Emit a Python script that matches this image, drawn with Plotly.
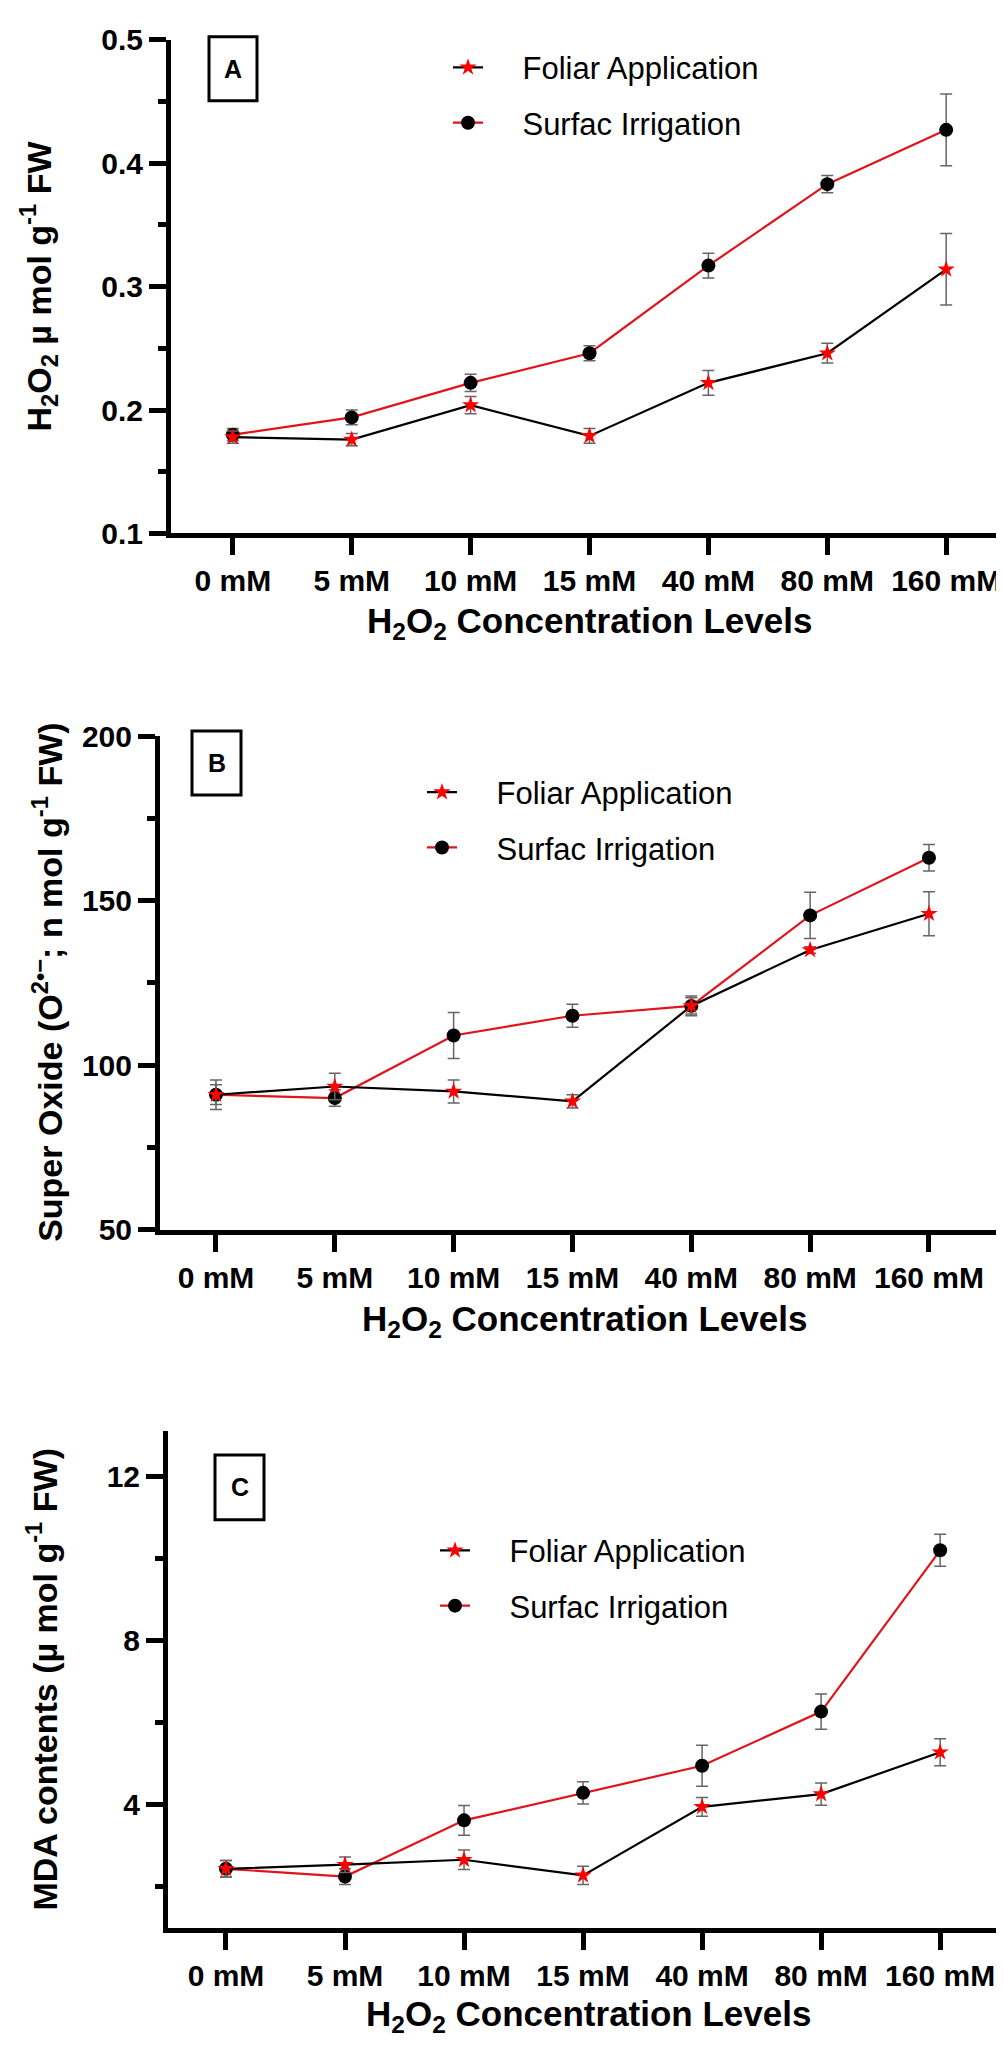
import plotly.graph_objects as go

# categories on the x axis (same in all three panels)
levels = ["0 mM", "5 mM", "10 mM", "15 mM", "40 mM", "80 mM", "160 mM"]

# Panel A - H2O2 content
a_foliar = [0.178, 0.176, 0.204, 0.179, 0.222, 0.246, 0.314]
a_foliar_err = [0.005, 0.005, 0.007, 0.006, 0.010, 0.008, 0.029]
a_surface = [0.180, 0.194, 0.222, 0.246, 0.317, 0.383, 0.427]
a_surface_err = [0.005, 0.006, 0.007, 0.006, 0.010, 0.007, 0.029]

# Panel B - super oxide
b_foliar = [91.0, 93.5, 92.0, 89.0, 118.0, 135.0, 146.0]
b_foliar_err = [4.5, 4.0, 3.5, 2.0, 2.5, 1.0, 6.7]
b_surface = [91.0, 90.0, 109.0, 115.0, 118.0, 145.5, 163.0]
b_surface_err = [3.0, 2.5, 7.0, 3.5, 3.0, 7.0, 4.0]

# Panel C - MDA contents
c_foliar = [2.44, 2.54, 2.66, 2.28, 3.95, 4.26, 5.28]
c_foliar_err = [0.20, 0.19, 0.24, 0.22, 0.23, 0.27, 0.33]
c_surface = [2.44, 2.25, 3.62, 4.29, 4.95, 6.27, 10.2]
c_surface_err = [0.20, 0.19, 0.36, 0.27, 0.50, 0.43, 0.39]

W, H = 1004, 2050
FONT = "Liberation Sans, Arial, sans-serif"
RED = "#e0141c"
ERR = "#666666"
GAP = "\u00a0" * 4  # pushes legend text away from the line sample


def px_x(p):
    return p / W


def px_y(p):
    return 1 - p / H


panels = [
    dict(f=a_foliar, fe=a_foliar_err, s=a_surface, se=a_surface_err,
         xs=(163, 1000), ys=(15, 517), xr=[-0.52, 6.52], yr=[0.1, 0.5],
         dtick=0.1, minor=0.05, tick0=0.1,
         ytitle="H<sub>2</sub>O<sub>2</sub> µ mol g<sup>-1</sup> FW", ytx=30,
         box="A", box_px=(201, 12, 249, 77), leg=(440, 16), xt=608),
    dict(f=b_foliar, fe=b_foliar_err, s=b_surface, se=b_surface_err,
         xs=(152, 1000), ys=(723, 1225), xr=[-0.471, 6.665], yr=[50, 200],
         dtick=50, minor=25, tick0=50,
         ytitle="Super Oxide (O<sup>2•−</sup>; n mol g<sup>-1</sup> FW)", ytx=40,
         box="B", box_px=(184, 718, 233, 783), leg=(414, 753), xt=1318),
    dict(f=c_foliar, fe=c_foliar_err, s=c_surface, se=c_surface_err,
         xs=(160, 1000), ys=(1430, 1935), xr=[-0.487, 6.57], yr=[1, 13.1],
         dtick=4, minor=2, tick0=0,
         ytitle="MDA contents (µ mol g<sup>-1</sup> FW)", ytx=34,
         box="C", box_px=(207, 1454, 256, 1520), leg=(427, 1524), xt=2025),
]

fig = go.Figure()
annotations = []
shapes = []

for i, p in enumerate(panels):
    n = "" if i == 0 else str(i + 1)
    xa, ya = "x" + n, "y" + n
    leg = "legend" + n

    # surface irrigation first so the foliar stars sit on top
    fig.add_trace(go.Scatter(
        x=levels, y=p["s"], name=GAP + "Surfac Irrigation", mode="lines+markers",
        line=dict(color=RED, width=2.2),
        marker=dict(symbol="circle", size=14, color="black"),
        error_y=dict(type="data", array=p["se"], color=ERR, thickness=1.5, width=6),
        xaxis=xa, yaxis=ya, legend=leg, legendgroup="s" + n, legendrank=2,
    ))
    fig.add_trace(go.Scatter(
        x=levels, y=p["f"], name=GAP + "Foliar Application", mode="lines+markers",
        line=dict(color="black", width=2.2),
        marker=dict(symbol="star", size=13, color="#ff0000", line=dict(width=0)),
        error_y=dict(type="data", array=p["fe"], color=ERR, thickness=1.5, width=6),
        xaxis=xa, yaxis=ya, legend=leg, legendgroup="f" + n, legendrank=1,
    ))

    axis_common = dict(
        showgrid=False, zeroline=False, showline=True, linecolor="black", linewidth=5,
        ticks="outside", ticklen=17, tickwidth=5, tickcolor="black",
        tickfont=dict(family=FONT, size=30, color="black", weight="bold"),
    )
    fig.update_layout(**{
        "xaxis" + n: dict(
            axis_common, domain=[px_x(p["xs"][0]), px_x(p["xs"][1])],
            anchor=ya, type="category", range=p["xr"],
        ),
        "yaxis" + n: dict(
            axis_common, domain=[px_y(p["ys"][1]), px_y(p["ys"][0])],
            anchor=xa, range=p["yr"], tick0=p["tick0"], dtick=p["dtick"],
            minor=dict(ticks="outside", ticklen=8, tickwidth=5, tickcolor="black",
                       dtick=p["minor"], tick0=p["tick0"]),
        ),
        leg: dict(
            x=px_x(p["leg"][0]), y=px_y(p["leg"][1]), xanchor="left", yanchor="top",
            font=dict(family=FONT, size=31, color="black"),
            bgcolor="rgba(0,0,0,0)", tracegroupgap=12, traceorder="grouped",
        ),
    })

    # panel letter in a box
    x0, y0, x1, y1 = p["box_px"]
    shapes.append(dict(
        type="rect", xref="paper", yref="paper",
        x0=px_x(x0), x1=px_x(x1), y0=px_y(y1), y1=px_y(y0),
        line=dict(color="black", width=3), fillcolor="white", layer="above",
    ))
    annotations.append(dict(
        text="<b>%s</b>" % p["box"], xref="paper", yref="paper",
        x=px_x((x0 + x1) / 2), y=px_y((y0 + y1) / 2), showarrow=False,
        xanchor="center", yanchor="middle",
        font=dict(family=FONT, size=25, color="black"),
    ))
    # y-axis title
    annotations.append(dict(
        text="<b>%s</b>" % p["ytitle"], xref="paper", yref="paper",
        x=px_x(p["ytx"]), y=px_y((p["ys"][0] + p["ys"][1]) / 2), textangle=-90,
        xanchor="center", yanchor="middle",
        showarrow=False, font=dict(family=FONT, size=34, color="black"),
    ))
    # x-axis title
    annotations.append(dict(
        text="<b>H<sub>2</sub>O<sub>2</sub> Concentration Levels</b>",
        xref="paper", yref="paper", x=px_x((p["xs"][0] + p["xs"][1]) / 2),
        y=px_y(p["xt"]), showarrow=False, xanchor="center", yanchor="middle",
        font=dict(family=FONT, size=35, color="black"),
    ))

fig.update_layout(
    width=W, height=H, margin=dict(l=0, r=0, t=0, b=0),
    paper_bgcolor="white", plot_bgcolor="white",
    annotations=annotations, shapes=shapes, showlegend=True,
)

fig.write_html("out.html")
